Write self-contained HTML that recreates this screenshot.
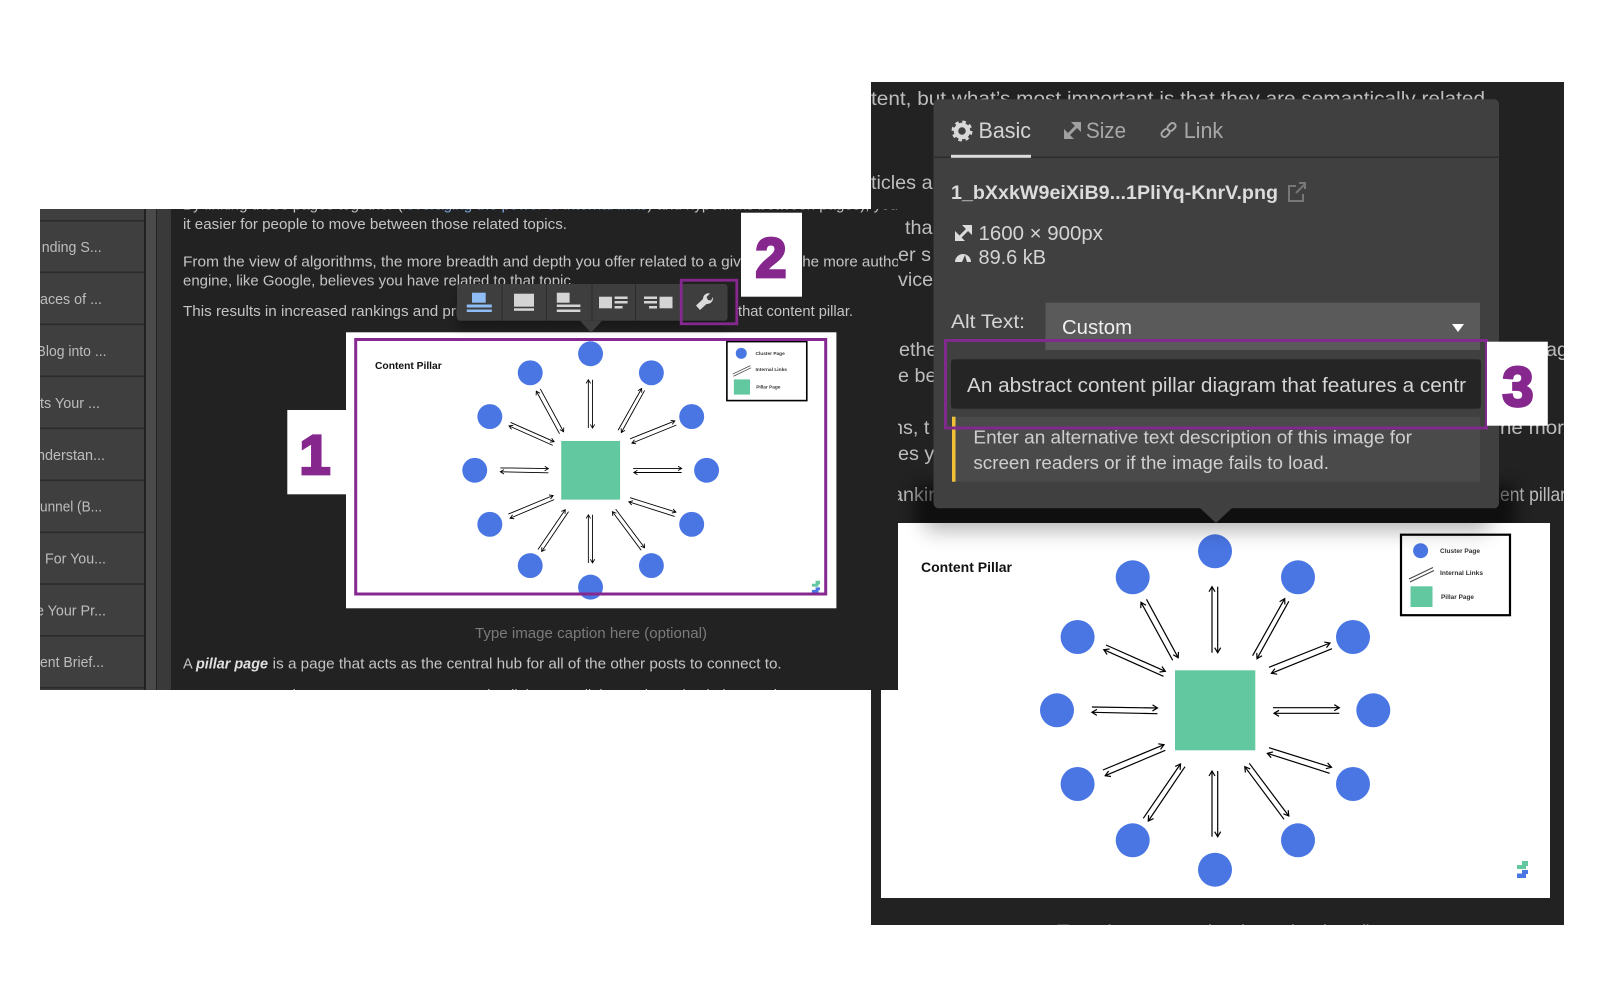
<!DOCTYPE html>
<html><head><meta charset="utf-8"><style>
html,body{margin:0;padding:0;background:#fff;width:1600px;height:990px;overflow:hidden}
svg{display:block;filter:blur(.3px)}
text{font-family:"Liberation Sans",sans-serif}
</style></head><body>
<svg width="1600" height="990" viewBox="0 0 1600 990" xmlns="http://www.w3.org/2000/svg">
<defs>
<marker id="ah" markerWidth="8" markerHeight="8" refX="6.5" refY="4" orient="auto" markerUnits="userSpaceOnUse"><path d="M1.5 1L6.5 4L1.5 7" fill="none" stroke="#000" stroke-width="1.2"/></marker>
<clipPath id="cl"><rect x="40" y="209" width="858" height="481"/></clipPath>
<clipPath id="cr"><rect x="871" y="82" width="693" height="843"/></clipPath>
<clipPath id="cim"><rect x="881" y="523" width="669" height="375"/></clipPath>
<clipPath id="cab"><rect x="871" y="82" width="693" height="441"/></clipPath>
<filter id="b1" x="-20%" y="-150%" width="140%" height="400%"><feGaussianBlur stdDeviation="11"/></filter>
<filter id="b3" x="-20%" y="-150%" width="140%" height="400%"><feGaussianBlur stdDeviation="8"/></filter>
<filter id="b2" x="-20%" y="-50%" width="140%" height="200%"><feGaussianBlur stdDeviation="5"/></filter>
<g id="dg">
<rect x="1175" y="670.3" width="80.3" height="80" fill="#62c89f"/>
<g fill="#4a76e4">
<circle cx="1215" cy="551.3" r="17"/><circle cx="1132.7" cy="577.3" r="17"/><circle cx="1298" cy="577.3" r="17"/>
<circle cx="1077.6" cy="637" r="17"/><circle cx="1353" cy="637" r="17"/><circle cx="1057" cy="710.3" r="17"/>
<circle cx="1373.3" cy="710.3" r="17"/><circle cx="1077.6" cy="784" r="17"/><circle cx="1353" cy="784" r="17"/>
<circle cx="1132.7" cy="840.3" r="17"/><circle cx="1298" cy="840.3" r="17"/><circle cx="1215" cy="869.7" r="17"/>
</g>
<g stroke="#000" stroke-width="1.2" fill="none">
<path d="M1212 652.7L1212 586.7" marker-end="url(#ah)"/><path d="M1217.7 586.7L1217.7 652.7" marker-end="url(#ah)"/>
<path d="M1252.6 655.7L1284.7 598.7" marker-end="url(#ah)"/><path d="M1288.8 601.3L1257 658.7" marker-end="url(#ah)"/>
<path d="M1269 667.3L1330 643" marker-end="url(#ah)"/><path d="M1332 648.7L1271.4 673.3" marker-end="url(#ah)"/>
<path d="M1273 707.7L1339.3 707.7" marker-end="url(#ah)"/><path d="M1339.3 713.3L1274 713.3" marker-end="url(#ah)"/>
<path d="M1269 747.7L1331.5 767.3" marker-end="url(#ah)"/><path d="M1329.7 773.3L1267.3 753.3" marker-end="url(#ah)"/>
<path d="M1249.3 763.3L1288.8 816" marker-end="url(#ah)"/><path d="M1284 819.3L1244.8 766.7" marker-end="url(#ah)"/>
<path d="M1212 836.7L1212 771" marker-end="url(#ah)"/><path d="M1217.7 771L1217.7 836.7" marker-end="url(#ah)"/>
<path d="M1143.3 818.3L1180.5 764" marker-end="url(#ah)"/><path d="M1185 766.7L1148.3 821" marker-end="url(#ah)"/>
<path d="M1102.9 770L1164 744.7" marker-end="url(#ah)"/><path d="M1165.3 750.3L1105.2 775.7" marker-end="url(#ah)"/>
<path d="M1091.9 707L1157.5 708" marker-end="url(#ah)"/><path d="M1157.5 713.7L1091.9 712.3" marker-end="url(#ah)"/>
<path d="M1106 645L1165.3 671.3" marker-end="url(#ah)"/><path d="M1163.5 676.3L1103.8 649.7" marker-end="url(#ah)"/>
<path d="M1146.5 599.3L1178.2 657.7" marker-end="url(#ah)"/><path d="M1172.7 660.3L1141 602.3" marker-end="url(#ah)"/>
</g>
<rect x="1401" y="534.7" width="109" height="80.5" fill="none" stroke="#000" stroke-width="2.2"/>
<circle cx="1420.6" cy="550.7" r="7.5" fill="#4a76e4"/>
<path d="M1409 579L1433 567.5M1410 582L1434 570.5" stroke="#444" stroke-width="1"/>
<rect x="1410.5" y="586.3" width="22" height="20.7" fill="#62c89f"/>
<path d="M1522 861h6v5h-2v3h-9v-4h5z" fill="#62c89f"/>
<path d="M1522 870h6v4h-2v4h-9v-4.500h5z" fill="#4a76e4"/>
</g>
</defs>
<rect width="1600" height="990" fill="#fff"/>

<!-- RIGHT PANEL -->
<rect x="871" y="82" width="693" height="843" fill="#222"/>
<g clip-path="url(#cr)" fill="#bdbdbd" font-size="19.800">
<text x="880" y="78" textLength="640" lengthAdjust="spacingAndGlyphs">pages may vary in length, topic, and type of content, but the key is they go together</text>
<text x="871" y="105" textLength="614" lengthAdjust="spacingAndGlyphs">tent, but what’s most important is that they are semantically related</text>
<text x="871" y="189">ticles a</text>
<text x="905" y="234">tha</text>
<text x="898" y="261">er s</text>
<text x="898" y="286">vice</text>
<text x="899" y="356">ethe</text>
<text x="898" y="382">e be</text>
<text x="892" y="434">ns, t</text>
<text x="898" y="460">es y</text>
<text x="892" y="501">anking</text>
<text x="1546" y="356">ag</text>
<text x="1500" y="434" textLength="64" lengthAdjust="spacingAndGlyphs">he mor</text>
<text x="1500" y="501" textLength="66" lengthAdjust="spacingAndGlyphs">ent pillar</text>
<text x="1057" y="938" textLength="316" lengthAdjust="spacingAndGlyphs" fill="#777">Type image caption here (optional)</text>
</g>
<rect x="881" y="523" width="669" height="375" fill="#fff"/>
<use href="#dg"/>
<text x="921" y="572" font-size="13.500" font-weight="700" fill="#111" textLength="91" lengthAdjust="spacingAndGlyphs">Content Pillar</text>
<g font-size="6" fill="#333" font-weight="700">
<text x="1440" y="553" textLength="40" lengthAdjust="spacingAndGlyphs">Cluster Page</text>
<text x="1440" y="575" textLength="43" lengthAdjust="spacingAndGlyphs">Internal Links</text>
<text x="1441" y="599" textLength="33" lengthAdjust="spacingAndGlyphs">Pillar Page</text>
</g>
<g clip-path="url(#cim)"><rect x="925" y="490" width="565" height="40" fill="#000" opacity=".3" filter="url(#b1)"/></g>
<g clip-path="url(#cab)"><rect x="915" y="485" width="600" height="50" fill="#000" opacity=".55" filter="url(#b3)"/></g>
<rect x="933.500" y="99.300" width="565.500" height="409" rx="5" fill="#404040"/>
<path d="M1200 508H1232L1216 523Z" fill="#404040"/>
<rect x="934" y="156.500" width="565" height="1.500" fill="#2b2b2b"/>
<rect x="951" y="154.800" width="80" height="3" fill="#ddd"/>
<!-- tabs -->
<g><circle cx="962" cy="131" r="6" fill="none" stroke="#d8d8d8" stroke-width="4.500"/><circle cx="962" cy="131" r="9" fill="none" stroke="#d8d8d8" stroke-width="3" stroke-dasharray="3.500 3.570"/></g>
<text x="978.500" y="138" font-size="22" fill="#d4d4d4" textLength="52.500" lengthAdjust="spacingAndGlyphs">Basic</text>
<g fill="#a0a0a0"><path d="M1067 136L1078 125" stroke="#a0a0a0" stroke-width="3"/><path d="M1071 122h10v10z"/><path d="M1064 129v10h10z"/></g>
<text x="1086" y="138" font-size="22" fill="#a8a8a8" textLength="40" lengthAdjust="spacingAndGlyphs">Size</text>
<g fill="none" stroke="#a8a8a8" stroke-width="2"><rect x="1167" y="124" width="9" height="6" rx="3" transform="rotate(-45 1171.500 127)"/><rect x="1161" y="130" width="9" height="6" rx="3" transform="rotate(-45 1165.500 133)"/></g>
<text x="1183.700" y="138" font-size="22" fill="#a8a8a8" textLength="39.500" lengthAdjust="spacingAndGlyphs">Link</text>
<!-- file -->
<text x="951" y="199" font-size="19" font-weight="700" fill="#dcdcdc" textLength="327" lengthAdjust="spacingAndGlyphs">1_bXxkW9eiXiB9...1PliYq-KnrV.png</text>
<g fill="none" stroke="#777" stroke-width="2"><path d="M1296 186h-7v15h14v-7"/><path d="M1296 193l9-9M1299 183h6v6"/></g>
<g fill="#dcdcdc"><path d="M959 238L969 228" stroke="#dcdcdc" stroke-width="3"/><path d="M962 225h10v10z"/><path d="M955 231v10h10z"/></g>
<text x="978.500" y="240" font-size="20" fill="#d4d4d4" textLength="124.500" lengthAdjust="spacingAndGlyphs">1600 × 900px</text>
<path d="M955 262a8 8 0 0 1 16 0h-4l-2-7-3 7z" fill="#dcdcdc"/>
<text x="978.500" y="264" font-size="20" fill="#d4d4d4" textLength="67.500" lengthAdjust="spacingAndGlyphs">89.6 kB</text>
<!-- alt -->
<text x="951" y="328" font-size="19.500" fill="#d4d4d4" textLength="74" lengthAdjust="spacingAndGlyphs">Alt Text:</text>
<rect x="1045.500" y="302.700" width="434.500" height="47.300" fill="#5a5a5a"/>
<text x="1062" y="334" font-size="20" fill="#efefef" textLength="70" lengthAdjust="spacingAndGlyphs">Custom</text>
<path d="M1452 324H1464L1458 332Z" fill="#fff"/>
<rect x="951" y="359.300" width="530" height="49.400" rx="3" fill="#252525"/>
<text x="967" y="392" font-size="20" fill="#d4d4d4" textLength="499" lengthAdjust="spacingAndGlyphs">An abstract content pillar diagram that features a centr</text>
<rect x="952" y="416.700" width="528" height="65" rx="2" fill="#4a4a4a"/>
<rect x="952" y="416.700" width="3.500" height="65" fill="#f2c037"/>
<text x="973.400" y="443.500" font-size="18.500" fill="#cfcfcf" textLength="438.600" lengthAdjust="spacingAndGlyphs">Enter an alternative text description of this image for</text>
<text x="973.400" y="469" font-size="18.500" fill="#cfcfcf" textLength="355.600" lengthAdjust="spacingAndGlyphs">screen readers or if the image fails to load.</text>
<rect x="945.500" y="340.500" width="541" height="87.500" fill="none" stroke="#7f2a8c" stroke-width="3"/>
<rect x="1487" y="341.700" width="60.800" height="84" fill="#fff"/>
<text x="1518" y="406" text-anchor="middle" font-size="56" font-weight="700" fill="#86278e" stroke="#86278e" stroke-width="2.800">3</text>

<!-- LEFT PANEL -->
<rect x="40" y="209" width="858" height="481" fill="#222"/>
<g clip-path="url(#cl)">
<rect x="40" y="209" width="104" height="481" fill="#3f3f3f"/>
<g fill="#2a2a2a">
<rect x="40" y="220" width="104" height="1.500"/><rect x="40" y="271.600" width="104" height="1.500"/><rect x="40" y="323.600" width="104" height="1.500"/><rect x="40" y="375.600" width="104" height="1.500"/><rect x="40" y="427.600" width="104" height="1.500"/><rect x="40" y="479.600" width="104" height="1.500"/><rect x="40" y="531.600" width="104" height="1.500"/><rect x="40" y="583.300" width="104" height="1.500"/><rect x="40" y="635" width="104" height="1.500"/><rect x="40" y="687" width="104" height="1.500"/>
</g>
<rect x="146" y="209" width="10" height="481" fill="#4a4a4a"/>
<rect x="157" y="209" width="14" height="481" fill="#3a3a3a"/>
<g fill="#bdbdbd" font-size="14.500">
<text x="41.700" y="252" textLength="60" lengthAdjust="spacingAndGlyphs">nding S...</text>
<text x="40" y="304" textLength="62" lengthAdjust="spacingAndGlyphs">aces of ...</text>
<text x="36.500" y="356" textLength="70" lengthAdjust="spacingAndGlyphs">Blog into ...</text>
<text x="40" y="408" textLength="60" lengthAdjust="spacingAndGlyphs">ts Your ...</text>
<text x="37" y="460" textLength="68" lengthAdjust="spacingAndGlyphs">nderstan...</text>
<text x="40" y="511.500" textLength="62" lengthAdjust="spacingAndGlyphs">unnel (B...</text>
<text x="45" y="563.500" textLength="61" lengthAdjust="spacingAndGlyphs">For You...</text>
<text x="36" y="615.500" textLength="70" lengthAdjust="spacingAndGlyphs">e Your Pr...</text>
<text x="40" y="667" textLength="64" lengthAdjust="spacingAndGlyphs">ent Brief...</text>
</g>
<g fill="#c4c4c4" font-size="14.500">
<text x="183" y="209.500" textLength="715" lengthAdjust="spacingAndGlyphs">By linking these pages together (<tspan fill="#7fa8e0">leveraging the power of internal links</tspan>) and hyperlinks between pages), you</text>
<text x="183" y="229" textLength="384" lengthAdjust="spacingAndGlyphs">it easier for people to move between those related topics.</text>
<text x="183" y="266.500" textLength="575" lengthAdjust="spacingAndGlyphs">From the view of algorithms, the more breadth and depth you offer related to a given</text>
<text x="798" y="266.500" textLength="122" lengthAdjust="spacingAndGlyphs">the more authority</text>
<text x="183" y="285.500" textLength="392" lengthAdjust="spacingAndGlyphs">engine, like Google, believes you have related to that topic.</text>
<text x="183" y="316" textLength="305" lengthAdjust="spacingAndGlyphs">This results in increased rankings and priority</text>
<text x="738" y="316" textLength="115" lengthAdjust="spacingAndGlyphs">that content pillar.</text>
<text x="183" y="668.500">A</text>
<text x="196" y="668.500" font-weight="700" font-style="italic" fill="#e0e0e0" textLength="72" lengthAdjust="spacingAndGlyphs">pillar page</text>
<text x="272.700" y="668.500" textLength="509" lengthAdjust="spacingAndGlyphs">is a page that acts as the central hub for all of the other posts to connect to.</text>
<text x="183" y="700" textLength="670" lengthAdjust="spacingAndGlyphs">In E-commerce, the pages are category pages that link out to all the products that belong to that category</text>
</g>
<text x="475" y="638" fill="#7a7a7a" font-size="14.500" textLength="232" lengthAdjust="spacingAndGlyphs">Type image caption here (optional)</text>
</g>
<rect x="346" y="332.300" width="490.400" height="276" fill="#fff"/>
<g transform="translate(-300.050 -50.350) scale(.733)">
<use href="#dg"/>
<text x="921" y="572" font-size="13.500" font-weight="700" fill="#111" textLength="91" lengthAdjust="spacingAndGlyphs">Content Pillar</text>
<g font-size="6" fill="#333" font-weight="700">
<text x="1440" y="553" textLength="40" lengthAdjust="spacingAndGlyphs">Cluster Page</text>
<text x="1440" y="575" textLength="43" lengthAdjust="spacingAndGlyphs">Internal Links</text>
<text x="1441" y="599" textLength="33" lengthAdjust="spacingAndGlyphs">Pillar Page</text>
</g>
</g>
<rect x="457" y="292" width="270" height="36" fill="#000" opacity=".3" filter="url(#b2)"/>
<rect x="355.700" y="339.500" width="470" height="254.500" fill="none" stroke="#85288f" stroke-width="3"/>
<!-- toolbar -->
<rect x="457" y="284" width="270.500" height="36.700" rx="3" fill="#3e3e3e"/>
<path d="M580 320.700H602L591 332.700Z" fill="#3e3e3e"/>
<g fill="#2c2c2c"><rect x="501.500" y="284" width="1" height="36.700"/><rect x="546" y="284" width="1" height="36.700"/><rect x="591.500" y="284" width="1" height="36.700"/><rect x="635" y="284" width="1" height="36.700"/></g>
<rect x="472" y="292.700" width="13.700" height="10" fill="#8fbcf5"/>
<rect x="466.800" y="304.500" width="25" height="3" fill="#8fbcf5"/><rect x="466.800" y="309.500" width="25" height="2.500" fill="#8fbcf5"/>
<rect x="514" y="293.700" width="20" height="13" fill="#d4d4d4"/><rect x="514" y="308.300" width="20" height="2.500" fill="#d4d4d4"/>
<rect x="556.800" y="292.700" width="12.800" height="10" fill="#d4d4d4"/><rect x="556.800" y="304.500" width="23.600" height="2.500" fill="#d4d4d4"/><rect x="556.800" y="309.500" width="23.600" height="2.500" fill="#d4d4d4"/>
<rect x="599" y="296.700" width="13" height="11.600" fill="#d4d4d4"/><rect x="614.600" y="296.500" width="13" height="2.500" fill="#d4d4d4"/><rect x="614.600" y="301" width="13" height="2.500" fill="#d4d4d4"/><rect x="614.600" y="306" width="8" height="2.500" fill="#d4d4d4"/>
<rect x="659.500" y="296.700" width="13" height="11.600" fill="#d4d4d4"/><rect x="644" y="296.500" width="13" height="2.500" fill="#d4d4d4"/><rect x="644" y="301" width="13" height="2.500" fill="#d4d4d4"/><rect x="649" y="306" width="8" height="2.500" fill="#d4d4d4"/>
<path d="M696 305.500L703 299A5.500 5.500 0 0 1 710 293.500L706.500 297L708 300L711 300.500L713 297A6 6 0 0 1 706.500 304L700 310Z" fill="#dcdcdc"/>
<rect x="681.200" y="280.200" width="55.600" height="43.600" fill="none" stroke="#85288f" stroke-width="2.800"/>
<!-- labels -->
<rect x="287.300" y="410" width="58.700" height="84.300" fill="#fff"/>
<text x="315" y="474" text-anchor="middle" font-size="56" font-weight="700" fill="#86278e" stroke="#86278e" stroke-width="2.800">1</text>
<rect x="741" y="212.700" width="61" height="84" fill="#fff"/>
<text x="771" y="277" text-anchor="middle" font-size="56" font-weight="700" fill="#86278e" stroke="#86278e" stroke-width="2.800">2</text>
</svg>
</body></html>
